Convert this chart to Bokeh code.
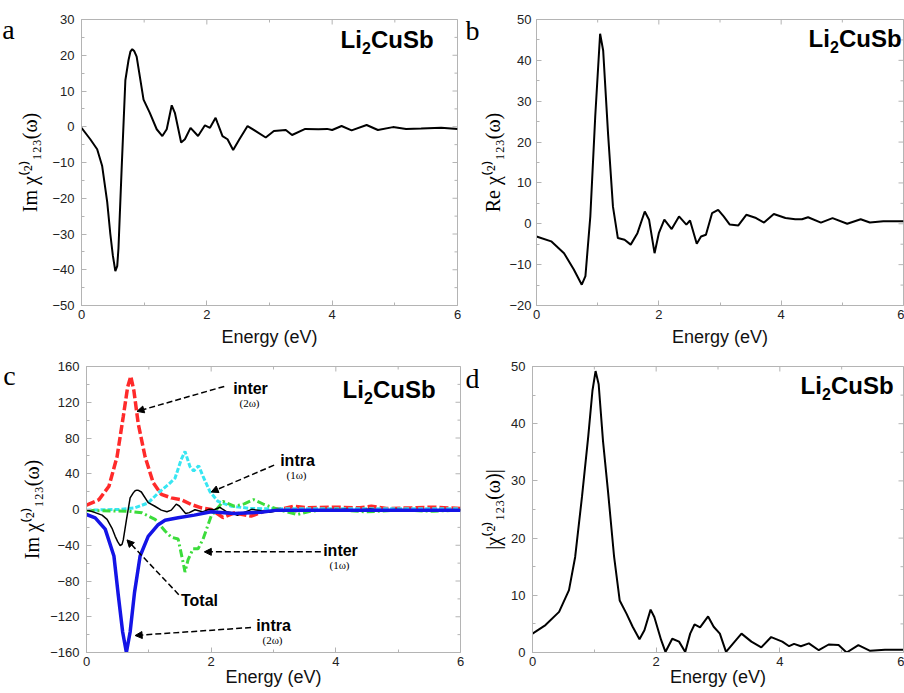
import math
from bokeh.plotting import figure
from bokeh.layouts import column, row
from bokeh.models import (FixedTicker, SingleIntervalTicker, Label,
                          Arrow, NormalHead, CustomJSTickFormatter, Range1d)
from bokeh.embed import file_html
from bokeh.resources import INLINE

# ---------------- data ----------------
# (a) Im chi(2)_123 total
im_x = [0, 0.14, 0.25, 0.33, 0.41, 0.46, 0.50, 0.54, 0.57, 0.59, 0.64, 0.70, 0.75, 0.78, 0.81, 0.84,
        0.88, 0.99, 1.09, 1.20, 1.29, 1.36, 1.44, 1.49, 1.59, 1.65, 1.74, 1.86, 1.97, 2.05,
        2.14, 2.17, 2.25, 2.33, 2.42, 2.52, 2.65, 2.78, 2.94, 3.07, 3.26, 3.36, 3.57, 3.78,
        3.92, 4.0, 4.15, 4.31, 4.55, 4.73, 4.97, 5.18, 5.42, 5.74, 6.0]
im_y = [-0.3, -3.5, -6.3, -11, -21, -30, -36, -40.4, -39, -34, -12, 13, 18.6, 21, 21.7, 21.2,
        19.6, 7.6, 3.9, -0.7, -2.6, -0.7, 6, 3.9, -4.4, -3.5, -0.3, -2.6, 0.4, -0.3,
        2.5, 1.1, -2.6, -3.5, -6.5, -3.5, 0.2, -1.2, -3, -1.2, -0.9, -2.3, -0.6, -0.7,
        -0.6, -0.9, 0.2, -1, 0.5, -0.9, -0.1, -0.6, -0.5, -0.3, -0.6]

# (b) Re chi(2)_123
re_x = [0, 0.24, 0.45, 0.61, 0.74, 0.80, 0.88, 0.96, 1.04, 1.09, 1.17, 1.25, 1.33, 1.44, 1.54,
        1.65, 1.77, 1.84, 1.93, 2.0, 2.09, 2.21, 2.33, 2.45, 2.51, 2.62, 2.69, 2.77, 2.87,
        2.97, 3.06, 3.16, 3.30, 3.43, 3.59, 3.72, 3.88, 4.07, 4.23, 4.34, 4.44, 4.65, 4.84,
        5.08, 5.30, 5.45, 5.67, 6.0]
re_y = [-3.1, -4.3, -7.2, -11.2, -14.9, -12.8, 1.8, 26.2, 46.5, 42.4, 22, 4.2, -3.5, -3.9, -5.1,
        -2.3, 3, 1, -7.2, -2.3, 1, -1.3, 1.8, -0.2, 0.8, -4.9, -3.1, -2.7, 2.6,
        3.4, 1.8, -0.2, -0.4, 2.2, 1.4, 0.3, 2.4, 1.4, 1.1, 1.1, 1.6, 0.3, 1.4,
        0, 1.1, 0.3, 0.6, 0.6]

# (d) |chi(2)_123|
abs_x = [0, 0.21, 0.43, 0.59, 0.69, 0.80, 0.90, 0.97, 1.02, 1.07, 1.14, 1.22, 1.32, 1.41, 1.52,
         1.62, 1.73, 1.81, 1.91, 1.97, 2.08, 2.15, 2.26, 2.37, 2.47, 2.55, 2.62, 2.71, 2.84,
         2.93, 3.03, 3.13, 3.27, 3.38, 3.54, 3.70, 3.86, 4.04, 4.15, 4.23, 4.34, 4.47, 4.63,
         4.79, 4.95, 5.08, 5.27, 5.46, 5.70, 6.0]
abs_y = [3.3, 4.8, 7.1, 10.9, 16.7, 27.2, 37.6, 45.8, 49.2, 46.9, 37, 28.3, 16.7, 9.1, 6.8,
         4.5, 2.3, 3.9, 7.5, 6.2, 2.2, 0.1, 2.4, 1.9, 0.1, 3.3, 4.9, 4.4, 6.3,
         4.5, 3.3, 0.1, 1.9, 3.3, 1.9, 0.9, 2.7, 1.9, 1.1, 1.5, 1.1, 1.6, 0.4,
         1.4, 1.3, 0, 1.3, 0.3, 0.5, 0.5]

# (c) contributions
inter2_x = [0, 0.2, 0.36, 0.49, 0.59, 0.66, 0.71, 0.76, 0.83, 0.94, 1.07, 1.20, 1.36, 1.52, 1.68,
            1.84, 2.0, 2.19, 2.37, 2.64, 2.90, 3.17, 3.33, 3.54, 3.96, 4.39, 4.57, 4.81, 5.29,
            5.55, 6.0]
inter2_y = [4.8, 11, 26, 59, 104, 137, 149, 133, 96, 59, 30, 17, 13, 11, 5.6,
            1.9, 0, -9, -3.7, -7.4, -0.7, 1.1, 3.7, 1.9, 2.6, 1.9, 3.7, 1.1, 1.9,
            2.6, 1.1]
intra1_x = [0, 0.51, 0.78, 0.99, 1.15, 1.31, 1.42, 1.52, 1.58, 1.66, 1.72, 1.80, 1.87, 1.98,
            2.11, 2.32, 2.64, 3.17, 6.0]
intra1_y = [-0.7, 0, 1.9, 7.4, 18.5, 27.8, 35, 56, 65, 48, 43, 49, 37, 20,
            9, 3.7, 1.1, 0.7, 0.7]
inter1_x = [0, 0.67, 0.89, 1.10, 1.26, 1.36, 1.47, 1.54, 1.58, 1.63, 1.71, 1.79, 1.87, 2.0,
            2.19, 2.37, 2.53, 2.68, 2.85, 3.11, 3.38, 3.59, 3.96, 4.49, 5.02, 5.55, 6.0]
inter1_y = [-1.1, -1.9, -3.7, -11, -24, -31, -33, -56, -70, -56, -44, -44, -33, -7.4,
            9, 3.7, 6.3, 11, 5.6, -0.7, -5.6, -1.9, 0, -2.6, -0.7, -1.9, -0.7]
intra2_x = [0, 0.14, 0.30, 0.44, 0.51, 0.58, 0.64, 0.70, 0.77, 0.86, 0.99, 1.15, 1.26, 1.47,
            1.73, 2.0, 2.37, 2.80, 3.06, 6.0]
intra2_y = [-5.6, -9.3, -22, -52, -96, -137, -160, -137, -93, -52, -30, -17, -12, -9.3,
            -6.3, -2.6, -4.4, -3, -0.7, -0.7]

x_ticks = [0, 2, 4, 6]
x_minor = [1, 3, 5]

# ---------------- styling helpers ----------------
FRAME = "#b4b4b4"
SANS = "Liberation Sans"
SERIF = "Liberation Serif"
minus_fmt = "return tick < 0 ? '\\u2212' + Math.abs(tick) : '' + tick;"
CHI = "\u03c7\u207d\u00b2\u207e\u2081\u2082\u2083(\u03c9)"


def style_axis(ax):
    ax.axis_line_color = FRAME
    ax.major_tick_line_color = FRAME
    ax.minor_tick_line_color = FRAME
    ax.major_tick_in = 5
    ax.major_tick_out = 0
    ax.minor_tick_in = 3
    ax.minor_tick_out = 0
    ax.major_label_text_font = SANS
    ax.major_label_text_font_size = "13px"
    ax.major_label_text_color = "#222222"
    ax.formatter = CustomJSTickFormatter(code=minus_fmt)


def make_fig(w, h, L, R, T, B, ymin, ymax, yint, xlab_standoff, ytext, ylab_standoff,
             ytick_standoff=7):
    p = figure(width=w, height=h, x_range=Range1d(0, 6), y_range=Range1d(ymin, ymax),
               output_backend="svg", toolbar_location=None,
               min_border_left=L, min_border_right=R, min_border_top=T, min_border_bottom=B)
    p.grid.visible = False
    p.outline_line_color = FRAME
    xa = p.below[0]
    ya = p.left[0]
    xa.ticker = FixedTicker(ticks=x_ticks, minor_ticks=x_minor)
    ya.ticker = SingleIntervalTicker(interval=yint, num_minor_ticks=2)
    style_axis(xa)
    style_axis(ya)
    xa.major_label_standoff = 4
    ya.major_label_standoff = ytick_standoff
    xa.axis_label = "Energy (eV)"
    xa.axis_label_text_font = SANS
    xa.axis_label_text_font_size = "18px"
    xa.axis_label_text_font_style = "normal"
    xa.axis_label_text_color = "#111111"
    xa.axis_label_standoff = xlab_standoff
    ya.axis_label = ytext
    ya.axis_label_text_font = SERIF
    ya.axis_label_text_font_size = "20px"
    ya.axis_label_text_font_style = "normal"
    ya.axis_label_text_color = "black"
    ya.axis_label_standoff = ylab_standoff
    # small inward ticks on the top and right edges of the frame
    y_major = list(range(ymin, ymax + 1, yint))
    y_minor = [v + yint / 2 for v in y_major[:-1]]
    p.scatter(x_ticks, [ymax] * len(x_ticks), marker="dash", size=10, angle=math.pi / 2,
              line_color=FRAME, line_width=1)
    p.scatter(x_minor, [ymax] * len(x_minor), marker="dash", size=6, angle=math.pi / 2,
              line_color=FRAME, line_width=1)
    p.scatter([6] * len(y_major), y_major, marker="dash", size=10, line_color=FRAME, line_width=1)
    p.scatter([6] * len(y_minor), y_minor, marker="dash", size=6, line_color=FRAME, line_width=1)
    return p


def letter_strip(w, h, T, B, cy, letter):
    """Narrow figure holding the panel letter; its frame matches the panel frame rows."""
    fh = h - T - B
    s = figure(width=w, height=h, x_range=Range1d(0, w), y_range=Range1d(0, fh),
               x_axis_type=None, y_axis_type=None, output_backend="svg",
               toolbar_location=None, min_border_left=0, min_border_right=0,
               min_border_top=T, min_border_bottom=B)
    s.grid.visible = False
    s.outline_line_color = None
    s.add_layout(Label(x=w / 2, y=fh - (cy - T), text=letter, text_font=SERIF,
                       text_font_size="28px", text_align="center", text_baseline="middle",
                       text_color="black"))
    return s


def lab(p, dx, dy, text, size, font=SANS, style="normal", align="left"):
    p.add_layout(Label(x=p.x_range.start, y=p.y_range.end, x_offset=dx, y_offset=dy,
                       text=text, text_font=font, text_font_size=f"{size}px",
                       text_font_style=style, text_align=align, text_baseline="middle",
                       text_color="black"))


def formula(p, dx, dy):
    lab(p, dx, dy, "Li", 24, style="bold")
    lab(p, dx + 21.5, dy - 8, "2", 16, style="bold")
    lab(p, dx + 30.5, dy, "CuSb", 24, style="bold")


# ---------------- panel a ----------------
pa = make_fig(449, 350, 62, 8, 16, 45, -50, 30, 10, 5, "Im " + CHI, 8)
pa.line(im_x, im_y, line_color="black", line_width=2)
formula(pa, 259, -20)
sa = letter_strip(16, 350, 16, 45, 26, "a")

# ---------------- panel b ----------------
pb = make_fig(425, 350, 49, 1, 19, 44, -20, 50, 10, 5, "Re " + CHI, 2, ytick_standoff=5)
pb.line(re_x, re_y, line_color="black", line_width=2)
formula(pb, 272, -19)
sb = letter_strip(14, 350, 19, 44, 30, "b")

# ---------------- panel c ----------------
pc = make_fig(447, 343, 66, 5, 16, 40, -160, 160, 40, -2, "Im " + CHI, 4)
pc.line(inter2_x, inter2_y, line_color="#ff2a2a", line_width=3.5, line_dash="9 3")
pc.line(intra1_x, intra1_y, line_color="#38e6f2", line_width=3, line_dash="5 2")
pc.line(inter1_x, inter1_y, line_color="#3cdc3c", line_width=3, line_dash="8 3 2 3")
pc.line(im_x, im_y, line_color="black", line_width=1.5)
pc.line(intra2_x, intra2_y, line_color="#1414e6", line_width=3.5)
formula(pc, 256, -23)
sc = letter_strip(18, 343, 16, 40, 25, "c")

head = dict(size=7, fill_color="black", line_color="black")
for xs, ys, xe, ye in [(2.21, 137.7, 0.81, 109.8), (3.01, 49.6, 2.0, 19.5),
                       (3.76, -47.4, 1.89, -47.4), (1.48, -95.3, 0.65, -34),
                       (2.64, -132, 0.78, -141)]:
    pc.add_layout(Arrow(end=NormalHead(**head), x_start=xs, y_start=ys, x_end=xe, y_end=ye,
                        line_dash="6 3", line_width=1.5, line_color="black"))

for dx, dy, word, sub in [(164, -22, "inter", "(2\u03c9)"), (211, -94, "intra", "(1\u03c9)"),
                          (254, -184, "inter", "(1\u03c9)"), (187, -259, "intra", "(2\u03c9)")]:
    lab(pc, dx, dy, word, 16, style="bold", align="center")
    lab(pc, dx - 1, dy - 14, sub, 11, font=SERIF, align="center")
lab(pc, 113, -234, "Total", 16, style="bold", align="center")

# ---------------- panel d ----------------
pd_ = make_fig(425, 343, 48, 1, 16, 41, 0, 50, 10, -2, "|" + CHI + "|", 4)
pd_.line(abs_x, abs_y, line_color="black", line_width=2)
formula(pd_, 268, -19)
sd = letter_strip(14, 343, 16, 41, 28, "d")

layout = column(row(sa, pa, sb, pb), row(sc, pc, sd, pd_))
open("out.html", "w").write(file_html(layout, INLINE))
